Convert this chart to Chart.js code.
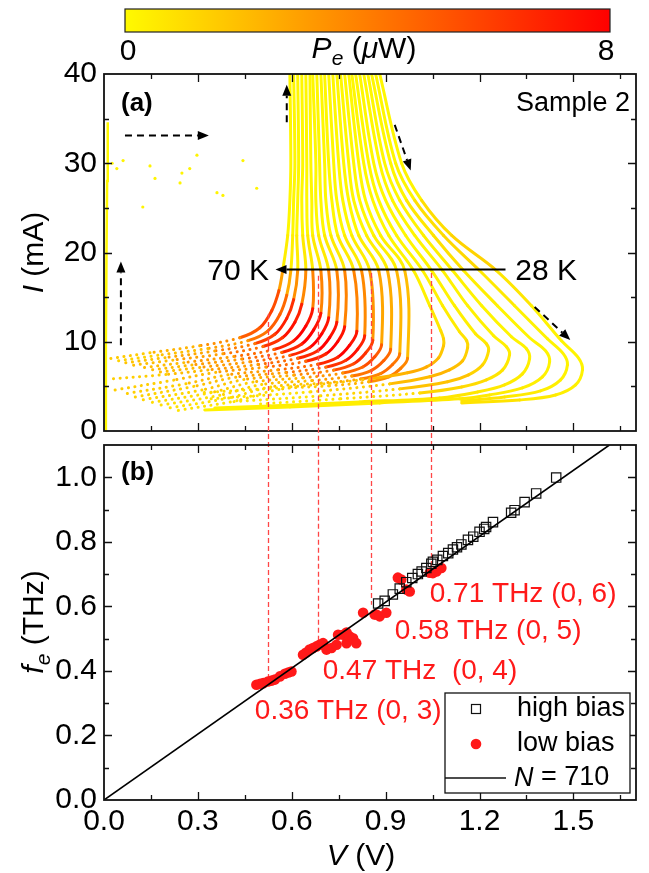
<!DOCTYPE html>
<html>
<head>
<meta charset="utf-8">
<script src="https://cdn.jsdelivr.net/npm/chart.js@4.4.1/dist/chart.umd.min.js"></script>
<style>
  body { margin: 0; background: #fff; }
  #wrap { position: relative; width: 649px; height: 873px; }
  #wrap canvas { position: absolute; left: 0; top: 0; }
</style>
</head>
<body>
<div id="wrap">
  <canvas id="ivChart" width="649" height="873"></canvas>
  <canvas id="freqChart" width="649" height="873"></canvas>
</div>
<script>
// I-V curves, 70 K (first) to 28 K (last). Each row: [V (V), I (mA), Pe (uW), dotted segment follows]
const hotCurves = [
  [[0.594,40,0.1],[0.597,30,0.1],[0.594,25.84,0.1],[0.587,21.91,0.1],[0.571,17.98,0.7],[0.559,15.73,5.1],[0.536,13.48,6],[0.498,11.57,6],[0.434,10.45,4.2,1],[0.306,9.55,2.7,1],[0.147,8.76,1.8,1],[0.013,8.09,1.2]],
  [[0.606,40,0.1],[0.610,30,0.1],[0.606,25.84,0.1],[0.603,21.91,0.1],[0.597,17.98,0.6],[0.584,15.22,4.3],[0.562,13.06,5],[0.523,11.20,5],[0.460,10.12,3.5,1],[0.332,9.25,2.3,1],[0.172,8.48,1.5,1],[0.038,7.83,1.0]],
  [[0.619,40,0.1],[0.622,30,0.1],[0.619,25.84,0.1],[0.616,21.91,0.1],[0.619,17.98,0.8],[0.606,14.72,6.0],[0.584,12.62,7],[0.546,10.84,7],[0.482,9.79,4.9,1],[0.354,8.96,3.2,1],[0.195,8.22,2.1,1],[0.061,7.60,1.4]],
  [[0.632,40,0.1],[0.635,30,0.1],[0.632,25.84,0.1],[0.635,21.91,0.1],[0.645,17.98,0.9],[0.632,14.21,6.4],[0.610,12.19,7.5],[0.571,10.47,7.5],[0.508,9.46,5.3,1],[0.380,8.65,3.4,1],[0.220,7.94,2.3,1],[0.086,7.34,1.5]],
  [[0.645,40,0.1],[0.648,30,0.1],[0.648,25.84,0.1],[0.651,21.91,0.1],[0.667,17.98,0.9],[0.667,13.71,6.8],[0.645,11.76,8],[0.606,10.10,8],[0.543,9.13,5.6,1],[0.415,8.35,3.6,1],[0.255,7.66,2.4,1],[0.121,7.08,1.6]],
  [[0.658,40,0.1],[0.661,30,0.1],[0.664,25.84,0.1],[0.667,21.91,0.1],[0.693,17.98,0.9],[0.693,13.20,6.8],[0.670,11.33,8],[0.632,9.74,8],[0.568,8.80,5.6,1],[0.440,8.06,3.6,1],[0.281,7.39,2.4,1],[0.147,6.83,1.6]],
  [[0.667,40,0.1],[0.677,30,0.1],[0.677,25.84,0.1],[0.686,21.91,0.1],[0.718,17.98,0.9],[0.718,12.70,6.8],[0.696,10.90,8],[0.658,9.37,8],[0.594,8.47,5.6,1],[0.466,7.75,3.6,1],[0.306,7.12,2.4,1],[0.172,6.58,1.6]],
  [[0.680,40,0.1],[0.689,30,0.1],[0.693,25.84,0.1],[0.705,21.91,0.1],[0.744,17.98,0.9],[0.744,12.19,6.8],[0.721,10.47,8],[0.683,9.00,8],[0.619,8.15,5.6,1],[0.492,7.45,3.6,1],[0.332,6.84,2.4,1],[0.198,6.33,1.6,1],[0.010,5.81,1.2]]
];

const warmCurves = [
  [[0.693,40,0.1],[0.705,30,0.1],[0.709,25.84,0.1],[0.725,21.91,0.1],[0.769,17.98,0.9],[0.769,11.69,6.8],[0.747,10.03,8],[0.709,8.64,8],[0.645,7.81,5.6,1],[0.517,7.16,3.6,1],[0.357,6.57,2.4,1],[0.223,5.70,1.6,1],[0.035,4.60,1.2]],
  [[0.705,40,0.1],[0.718,30,0.1],[0.728,25.84,0.1],[0.747,21.91,0.1],[0.798,17.98,0.9],[0.808,11.18,6.8],[0.785,9.61,8],[0.747,8.27,8],[0.683,7.48,5.6,1],[0.555,6.85,3.6,1],[0.396,6.30,2.4,1],[0.262,5.30,1.6,1],[0.073,4.20,1.2]],
  [[0.718,40,0.1],[0.734,30,0.1],[0.744,25.84,0.1],[0.769,21.91,0.1],[0.823,17.98,0.85],[0.833,10.67,6.4],[0.811,9.18,7.5],[0.772,7.90,7.5],[0.709,7.16,5.3,1],[0.581,6.55,3.4,1],[0.421,6.03,2.3,1],[0.287,5.00,1.5,1],[0.099,3.80,1.1]],
  [[0.731,40,0.1],[0.750,30,0.1],[0.763,25.84,0.1],[0.792,21.91,0.1],[0.849,17.98,0.75],[0.859,10.17,5.5],[0.836,8.74,6.5],[0.798,7.54,6.5],[0.734,6.82,4.6,1],[0.606,6.26,2.9,1],[0.447,5.76,2.0,1],[0.313,4.60,1.3,1],[0.124,3.50,1.0]],
  [[0.744,40,0.1],[0.766,30,0.1],[0.782,25.84,0.1],[0.814,21.91,0.1],[0.878,17.98,0.65],[0.887,9.66,4.7],[0.865,8.31,5.5],[0.827,7.17,5.5],[0.763,6.49,3.9,1],[0.635,5.96,2.5,1],[0.476,5.48,1.7,1],[0.342,4.30,1.1,1],[0.153,3.20,0.8]],
  [[0.756,40,0.1],[0.782,30,0.1],[0.798,25.84,0.1],[0.839,21.91,0.1],[0.906,17.98,0.6],[0.916,9.16,4.3],[0.894,7.89,5],[0.855,6.80,5],[0.792,6.16,3.5,1],[0.664,5.65,2.3,1],[0.504,5.21,1.5,1],[0.370,4.00,1.0,1],[0.182,2.90,0.8]],
  [[0.769,40,0.1],[0.798,30,0.1],[0.817,25.84,0.1],[0.862,21.91,0.1],[0.935,17.98,0.55],[0.945,8.65,3.8],[0.922,7.45,4.5],[0.884,6.44,4.5],[0.820,5.83,3.2,1],[0.693,5.36,2.0,1],[0.533,4.94,1.4,1],[0.399,3.70,0.9,1],[0.211,2.60,0.7]],
  [[0.782,40,0.1],[0.814,30,0.1],[0.836,25.84,0.1],[0.884,21.91,0.1],[0.961,17.98,0.5],[0.970,8.15,3.4],[0.948,7.02,4],[0.910,6.07,4],[0.846,5.51,2.8,1],[0.718,5.06,1.8,1],[0.559,4.66,1.2,1],[0.425,3.40,0.8,1],[0.236,2.30,0.6]]
];

const coldCurves = [
  [[0.792,40,0.1],[0.830,30,0.1],[0.859,25.84,0.1],[0.910,21.91,0.1],[0.989,17.98,0.2],[1.041,14.04,0.4],[1.076,11.24,0.8],[1.085,10.34,1.2],[1.085,9.55,1.5],[1.069,8.20,1.8],[1.031,7.19,2.5],[0.970,6.52,2.5],[0.849,5.84,2,1],[0.594,4.94,1.2,1],[0.306,4.27,0.8]],
  [[0.804,40,0.1],[0.846,30,0.1],[0.878,25.84,0.1],[0.935,21.91,0.1],[1.018,17.98,0.2],[1.082,14.04,0.3],[1.136,11.12,0.6],[1.159,10.11,0.9],[1.162,9.33,1.2],[1.146,7.87,1.5],[1.104,6.85,2.2],[1.041,6.07,2.2],[0.913,5.28,1.8,1],[0.658,4.38,1.0,1],[0.338,3.60,0.6]],
  [[0.817,40,0.1],[0.862,30,0.1],[0.900,25.84,0.1],[0.964,21.91,0.1],[1.047,17.98,0.2],[1.120,14.04,0.3],[1.187,10.90,0.4],[1.222,9.78,0.6],[1.229,8.99,0.8],[1.210,7.42,1.0],[1.165,6.29,1.5],[1.098,5.51,2.0],[0.945,4.72,1.6,1],[0.689,3.93,0.9,1],[0.402,3.26,0.5]],
  [[0.830,40,0.1],[0.881,30,0.1],[0.922,25.84,0.1],[0.993,21.91,0.2],[1.082,17.98,0.2],[1.162,14.04,0.3],[1.245,10.67,0.3],[1.286,9.44,0.4],[1.296,8.54,0.5],[1.274,6.85,0.6],[1.222,5.73,0.8],[1.143,4.94,1.2],[1.009,4.27,1.2,1],[0.753,3.60,0.7,1],[0.498,3.03,0.4]],
  [[0.843,40,0.1],[0.897,30,0.1],[0.945,25.84,0.1],[1.021,21.91,0.4],[1.114,17.98,0.3],[1.207,14.04,0.2],[1.302,10.56,0.2],[1.350,9.21,0.3],[1.360,8.09,0.3],[1.337,6.40,0.4],[1.280,5.17,0.5],[1.194,4.38,0.6],[1.072,3.71,0.7],[0.817,3.26,0.5],[0.530,2.81,0.3],[0.354,2.58,0.2]],
  [[0.855,40,0.1],[0.916,30,0.1],[0.967,25.84,0.2],[1.053,21.91,1.0],[1.149,17.98,0.6],[1.257,14.04,0.2],[1.360,10.45,0.2],[1.411,8.99,0.2],[1.424,7.75,0.2],[1.401,6.07,0.3],[1.337,4.83,0.4],[1.232,4.04,0.5],[1.136,3.60,0.6],[0.881,3.15,0.4],[0.594,2.70,0.3],[0.322,2.36,0.2]],
  [[0.868,40,0.1],[0.932,30,0.1],[0.993,25.84,0.3],[1.085,21.91,1.4],[1.200,17.98,0.8],[1.312,14.04,0.3],[1.417,10.34,0.2],[1.468,8.65,0.2],[1.481,7.42,0.2],[1.459,5.73,0.3],[1.395,4.49,0.4],[1.280,3.82,0.6],[1.143,3.37,0.8]],
  [[0.881,40,0.1],[0.951,30,0.1],[1.015,25.84,0.3],[1.111,21.91,1.5],[1.254,17.98,1.0],[1.366,14.04,0.3],[1.462,10.11,0.2],[1.516,8.20,0.2],[1.529,6.85,0.2],[1.507,5.17,0.3],[1.443,4.04,0.4],[1.328,3.48,0.6],[1.143,3.15,0.9]]
];

// superconducting branch and switching points near V = 0
const zeroBranch = [[0.005,0],[0.006,10],[0.008,20],[0.010,28],[0.012,34.6]];
const switchDots = [[0.026,30.0],[0.041,29.4],[0.061,30.3],[0.124,25.1],[0.147,29.7],[0.163,28.3],[0.243,27.8],[0.249,28.9],[0.274,29.4],[0.297,30.9],[0.361,26.7],[0.380,26.4],[0.444,30.3],[0.488,27.2]];

// emission frequency vs bias voltage
const highBiasV = [0.876,0.897,0.923,0.945,0.966,0.985,1.003,1.015,1.030,1.046,1.051,1.065,1.083,1.100,1.115,1.128,1.142,1.163,1.180,1.200,1.215,1.221,1.243,1.301,1.312,1.344,1.381,1.445];
const highBiasF = [0.609,0.617,0.637,0.655,0.675,0.688,0.700,0.708,0.719,0.732,0.738,0.744,0.756,0.765,0.776,0.783,0.792,0.806,0.816,0.831,0.840,0.846,0.861,0.890,0.898,0.923,0.950,0.999];
const lowBiasV = [0.487,0.499,0.509,0.524,0.536,0.546,0.562,0.578,0.589,0.599,0.636,0.645,0.657,0.668,0.679,0.689,0.700,0.711,0.727,0.743,0.748,0.764,0.775,0.775,0.785,0.796,0.806,0.828,0.865,0.870,0.881,0.902,0.939,0.950,0.966,0.977,1.041,1.051,1.062,1.078];
const lowBiasF = [0.357,0.360,0.362,0.367,0.370,0.373,0.383,0.391,0.395,0.398,0.450,0.456,0.466,0.471,0.476,0.481,0.486,0.466,0.471,0.481,0.512,0.512,0.519,0.486,0.507,0.501,0.486,0.580,0.575,0.575,0.569,0.580,0.689,0.683,0.652,0.646,0.704,0.703,0.708,0.719];
const fitLineV = [0, 1.615];
const fitLineF = [0, 1.1];

// cavity-mode guide lines: voltage, start current in (a), end frequency in (b)
const markV = [0.523, 0.685, 0.852, 1.046];
const markI = [13.1, 17.4, 17.7, 17.7];
const markF = [0.355, 0.485, 0.605, 0.72];
const modeLabels = ['0.36 THz (0, 3)', '0.47 THz  (0, 4)', '0.58 THz (0, 5)', '0.71 THz (0, 6)'];
const modeLabelV = [0.482, 0.699, 0.929, 1.041];
const modeLabelF = [0.276, 0.398, 0.522, 0.637];

const powerRange = [0, 8];

const FONT = '"Liberation Sans", Arial, Helvetica, sans-serif';
const RED = 'rgb(255,25,25)';

function powerColor(p) {
  const t = Math.min(Math.max((p - powerRange[0]) / (powerRange[1] - powerRange[0]), 0), 1);
  return 'rgb(255,' + Math.round(250 * (1 - t)) + ',0)';
}

function curveDataset(rows) {
  const pts = rows.map(r => ({ x: r[0], y: r[1], p: r[2], dot: r[3] === 1 }));
  return {
    data: pts,
    borderColor: powerColor(0),
    borderWidth: 3,
    borderCapStyle: 'round',
    borderJoinStyle: 'round',
    pointRadius: 0,
    tension: 0.35,
    segment: {
      borderColor: c => powerColor((pts[c.p0DataIndex].p + pts[c.p1DataIndex].p) / 2),
      borderDash: c => (pts[c.p0DataIndex].dot ? [0.1, 6.5] : [])
    }
  };
}

function font(size, opts) {
  opts = opts || {};
  return (opts.italic ? 'italic ' : '') + (opts.bold ? 'bold ' : '') + size + 'px ' + FONT;
}

// draws a run of text pieces with mixed italic / subscript styling
function drawRich(ctx, parts, x, y, align) {
  ctx.textAlign = 'left';
  ctx.textBaseline = 'middle';
  const widths = parts.map(p => {
    ctx.font = font(p.sub ? p.size * 0.7 : p.size, p);
    return ctx.measureText(p.t).width;
  });
  const total = widths.reduce((a, b) => a + b, 0);
  let cx = align === 'center' ? x - total / 2 : align === 'right' ? x - total : x;
  parts.forEach((p, i) => {
    ctx.font = font(p.sub ? p.size * 0.7 : p.size, p);
    ctx.fillText(p.t, cx, y + (p.sub ? p.size * 0.32 : 0));
    cx += widths[i];
  });
}

function drawFrame(ctx, a, xs, ys, xStep, yStep) {
  ctx.save();
  ctx.strokeStyle = '#111';
  ctx.lineWidth = 1.3;
  ctx.beginPath();
  for (let i = 1; xs.min + i * xStep < xs.max - 1e-6; i++) {
    const px = Math.round(xs.getPixelForValue(xs.min + i * xStep)) + 0.5;
    const len = i % 2 === 0 ? 8 : 5;
    ctx.moveTo(px, a.bottom); ctx.lineTo(px, a.bottom - len);
    ctx.moveTo(px, a.top); ctx.lineTo(px, a.top + len);
  }
  for (let i = 1; ys.min + i * yStep < ys.max - 1e-6; i++) {
    const py = Math.round(ys.getPixelForValue(ys.min + i * yStep)) + 0.5;
    const len = i % 2 === 0 ? 8 : 5;
    ctx.moveTo(a.left, py); ctx.lineTo(a.left + len, py);
    ctx.moveTo(a.right, py); ctx.lineTo(a.right - len, py);
  }
  ctx.stroke();
  ctx.lineWidth = 1.8;
  ctx.strokeRect(a.left, a.top, a.right - a.left, a.bottom - a.top);
  ctx.restore();
}

function arrow(ctx, x1, y1, x2, y2, dashed) {
  const ang = Math.atan2(y2 - y1, x2 - x1);
  const head = 11, half = 4.5;
  const bx = x2 - head * Math.cos(ang), by = y2 - head * Math.sin(ang);
  ctx.setLineDash(dashed ? [7, 5] : []);
  ctx.beginPath();
  ctx.moveTo(x1, y1);
  ctx.lineTo(bx, by);
  ctx.stroke();
  ctx.setLineDash([]);
  ctx.beginPath();
  ctx.moveTo(x2, y2);
  ctx.lineTo(bx + half * Math.sin(ang), by - half * Math.cos(ang));
  ctx.lineTo(bx - half * Math.sin(ang), by + half * Math.cos(ang));
  ctx.closePath();
  ctx.fill();
}

const tickFont = { size: 30, family: FONT };

// panel (a): frame, colour bar, arrows and labels
const ivDecor = {
  id: 'ivDecor',
  afterDraw(chart) {
    const { ctx, chartArea: a, scales: { x, y } } = chart;
    drawFrame(ctx, a, x, y, 0.15, 5);
    ctx.save();

    // colour bar for the emitted power
    const cb = { left: 125, right: 610, top: 9, bottom: 32 };
    const grad = ctx.createLinearGradient(cb.left, 0, cb.right, 0);
    for (let i = 0; i <= 8; i++) grad.addColorStop(i / 8, powerColor(powerRange[0] + i * (powerRange[1] - powerRange[0]) / 8));
    ctx.fillStyle = grad;
    ctx.fillRect(cb.left, cb.top, cb.right - cb.left, cb.bottom - cb.top);
    ctx.strokeStyle = '#222';
    ctx.lineWidth = 1.2;
    ctx.strokeRect(cb.left, cb.top, cb.right - cb.left, cb.bottom - cb.top);
    ctx.fillStyle = '#000';
    drawRich(ctx, [{ t: String(powerRange[0]), size: 30 }], cb.left + 3, 52, 'center');
    drawRich(ctx, [{ t: String(powerRange[1]), size: 30 }], cb.right - 4, 52, 'center');
    drawRich(ctx, [
      { t: 'P', size: 30, italic: true }, { t: 'e', size: 30, italic: true, sub: true },
      { t: ' (', size: 30 }, { t: 'μ', size: 30, italic: true }, { t: 'W)', size: 30 }
    ], 364, 50, 'center');

    // axis title
    ctx.save();
    ctx.translate(35, (a.top + a.bottom) / 2);
    ctx.rotate(-Math.PI / 2);
    drawRich(ctx, [{ t: 'I', size: 30, italic: true }, { t: ' (mA)', size: 30 }], 0, 0, 'center');
    ctx.restore();

    drawRich(ctx, [{ t: '(a)', size: 26, bold: true }], a.left + 17, a.top + 30, 'left');
    drawRich(ctx, [{ t: 'Sample 2', size: 27 }], a.right - 6, a.top + 30, 'right');

    // switching / temperature arrows
    ctx.strokeStyle = '#000';
    ctx.fillStyle = '#000';
    ctx.lineWidth = 2;
    const px = v => x.getPixelForValue(v), py = v => y.getPixelForValue(v);
    arrow(ctx, px(0.067), py(33.1), px(0.335), py(33.1), true);
    arrow(ctx, px(0.054), py(9.6), px(0.054), py(19.0), true);
    arrow(ctx, px(0.584), py(34.6), px(0.584), py(38.8), true);
    arrow(ctx, px(0.929), py(34.3), px(0.980), py(29.2), true);
    arrow(ctx, px(1.376), py(13.9), px(1.490), py(10.2), true);
    arrow(ctx, px(1.283), py(18.1), px(0.548), py(18.1), false);
    drawRich(ctx, [{ t: '70 K', size: 30 }], px(0.527), py(17.9), 'right');
    drawRich(ctx, [{ t: '28 K', size: 30 }], px(1.314), py(17.9), 'left');
    ctx.restore();
  }
};

function hiddenGrid() {
  return { display: false, drawTicks: false };
}

const ivChart = new Chart(document.getElementById('ivChart'), {
  type: 'line',
  data: {
    datasets: [
      ...coldCurves.map(curveDataset),
      ...warmCurves.map(curveDataset),
      ...hotCurves.map(curveDataset),
      {
        data: zeroBranch.map(r => ({ x: r[0], y: r[1] })),
        borderColor: powerColor(0.1), borderWidth: 2.5, pointRadius: 0
      },
      {
        type: 'scatter',
        data: switchDots.map(r => ({ x: r[0], y: r[1] })),
        pointRadius: 1.6, pointBorderWidth: 0, pointBackgroundColor: powerColor(0.2)
      }
    ]
  },
  options: {
    responsive: false,
    animation: false,
    events: [],
    layout: { padding: { left: 0, right: 13, top: 74, bottom: 0 } },
    plugins: { legend: { display: false }, tooltip: { enabled: false } },
    scales: {
      x: {
        type: 'linear', min: 0, max: 1.7,
        grid: hiddenGrid(), border: { display: false },
        ticks: { display: false, stepSize: 0.15, includeBounds: false },
        afterFit(s) { s.height = 442; }
      },
      y: {
        type: 'linear', min: 0, max: 40,
        grid: hiddenGrid(), border: { display: false },
        ticks: {
          stepSize: 5, includeBounds: false, autoSkip: false, padding: 7, color: '#000', font: tickFont,
          callback: v => (v % 10 === 0 ? String(v) : '')
        },
        afterFit(s) { s.width = 104; }
      }
    }
  },
  plugins: [ivDecor]
});

// panel (b): guide lines behind the points, then frame, labels and legend
const freqDecor = {
  id: 'freqDecor',
  beforeDatasetsDraw(chart) {
    const { ctx, scales: { x, y } } = chart;
    const topY = ivChart.scales.y;
    ctx.save();
    ctx.strokeStyle = 'rgb(255,70,70)';
    ctx.lineWidth = 1.3;
    ctx.setLineDash([5, 3]);
    ctx.beginPath();
    markV.forEach((v, i) => {
      const px = Math.round(x.getPixelForValue(v)) + 0.5;
      ctx.moveTo(px, topY.getPixelForValue(markI[i]));
      ctx.lineTo(px, y.getPixelForValue(markF[i]));
    });
    ctx.stroke();
    ctx.restore();
  },
  afterDraw(chart) {
    const { ctx, chartArea: a, scales: { x, y } } = chart;
    drawFrame(ctx, a, x, y, 0.15, 0.1);
    ctx.save();
    ctx.fillStyle = '#000';
    drawRich(ctx, [{ t: '(b)', size: 26, bold: true }], a.left + 17, a.top + 28, 'left');

    ctx.fillStyle = RED;
    modeLabels.forEach((t, i) => {
      drawRich(ctx, [{ t, size: 28 }], x.getPixelForValue(modeLabelV[i]), y.getPixelForValue(modeLabelF[i]), 'left');
    });

    // legend
    const lg = { left: a.left + 341, top: a.bottom - 107, right: a.right - 6, bottom: a.bottom - 7 };
    ctx.fillStyle = '#fff';
    ctx.fillRect(lg.left, lg.top, lg.right - lg.left, lg.bottom - lg.top);
    ctx.strokeStyle = '#111';
    ctx.lineWidth = 1.3;
    ctx.strokeRect(lg.left, lg.top, lg.right - lg.left, lg.bottom - lg.top);
    const mx = lg.left + 31, tx = lg.left + 72;
    ctx.lineWidth = 1.2;
    ctx.strokeRect(mx - 4.5, lg.top + 16 - 4.5, 9, 9);
    ctx.fillStyle = RED;
    ctx.beginPath();
    ctx.arc(mx, lg.top + 51, 5.3, 0, Math.PI * 2);
    ctx.fill();
    ctx.lineWidth = 1.6;
    ctx.beginPath();
    ctx.moveTo(lg.left, lg.top + 85);
    ctx.lineTo(lg.left + 61, lg.top + 85);
    ctx.stroke();
    ctx.fillStyle = '#000';
    drawRich(ctx, [{ t: 'high bias', size: 27 }], tx, lg.top + 16, 'left');
    drawRich(ctx, [{ t: 'low bias', size: 27 }], tx, lg.top + 51, 'left');
    drawRich(ctx, [{ t: 'N', size: 27, italic: true }, { t: ' = 710', size: 27 }], tx - 3, lg.top + 85, 'left');

    // axis titles
    ctx.save();
    ctx.translate(35, 622);
    ctx.rotate(-Math.PI / 2);
    drawRich(ctx, [
      { t: 'f', size: 30, italic: true }, { t: 'e', size: 30, italic: true, sub: true }, { t: ' (THz)', size: 30 }
    ], 0, 0, 'center');
    ctx.restore();
    drawRich(ctx, [{ t: 'V', size: 30, italic: true }, { t: ' (V)', size: 30 }], 361, 857, 'center');
    ctx.restore();
  }
};

new Chart(document.getElementById('freqChart'), {
  type: 'scatter',
  data: {
    datasets: [
      {
        type: 'line', order: 0,
        data: fitLineV.map((v, i) => ({ x: v, y: fitLineF[i] })),
        borderColor: '#000', borderWidth: 1.6, pointRadius: 0
      },
      {
        order: 1,
        data: highBiasV.map((v, i) => ({ x: v, y: highBiasF[i] })),
        pointStyle: 'rect', pointRadius: 6.6, pointBorderWidth: 1.2,
        pointBorderColor: '#111', pointBackgroundColor: 'rgba(255,255,255,0)'
      },
      {
        order: 2,
        data: lowBiasV.map((v, i) => ({ x: v, y: lowBiasF[i] })),
        pointStyle: 'circle', pointRadius: 5.3, pointBorderWidth: 0,
        pointBackgroundColor: RED
      }
    ]
  },
  options: {
    responsive: false,
    animation: false,
    events: [],
    layout: { padding: { left: 0, right: 13, top: 445, bottom: 0 } },
    plugins: { legend: { display: false }, tooltip: { enabled: false } },
    scales: {
      x: {
        type: 'linear', min: 0, max: 1.7,
        grid: hiddenGrid(), border: { display: false },
        ticks: {
          stepSize: 0.15, includeBounds: false, autoSkip: false, maxRotation: 0, padding: 4,
          color: '#000', font: tickFont,
          callback: v => (Math.abs(v / 0.3 - Math.round(v / 0.3)) < 1e-6 ? v.toFixed(1) : '')
        },
        afterFit(s) { s.height = 73; }
      },
      y: {
        type: 'linear', min: 0, max: 1.1,
        grid: hiddenGrid(), border: { display: false },
        ticks: {
          stepSize: 0.1, includeBounds: false, autoSkip: false, padding: 7, color: '#000', font: tickFont,
          callback: v => (Math.abs(v / 0.2 - Math.round(v / 0.2)) < 1e-6 ? v.toFixed(1) : '')
        },
        afterFit(s) { s.width = 104; }
      }
    }
  },
  plugins: [freqDecor]
});
</script>
</body>
</html>
